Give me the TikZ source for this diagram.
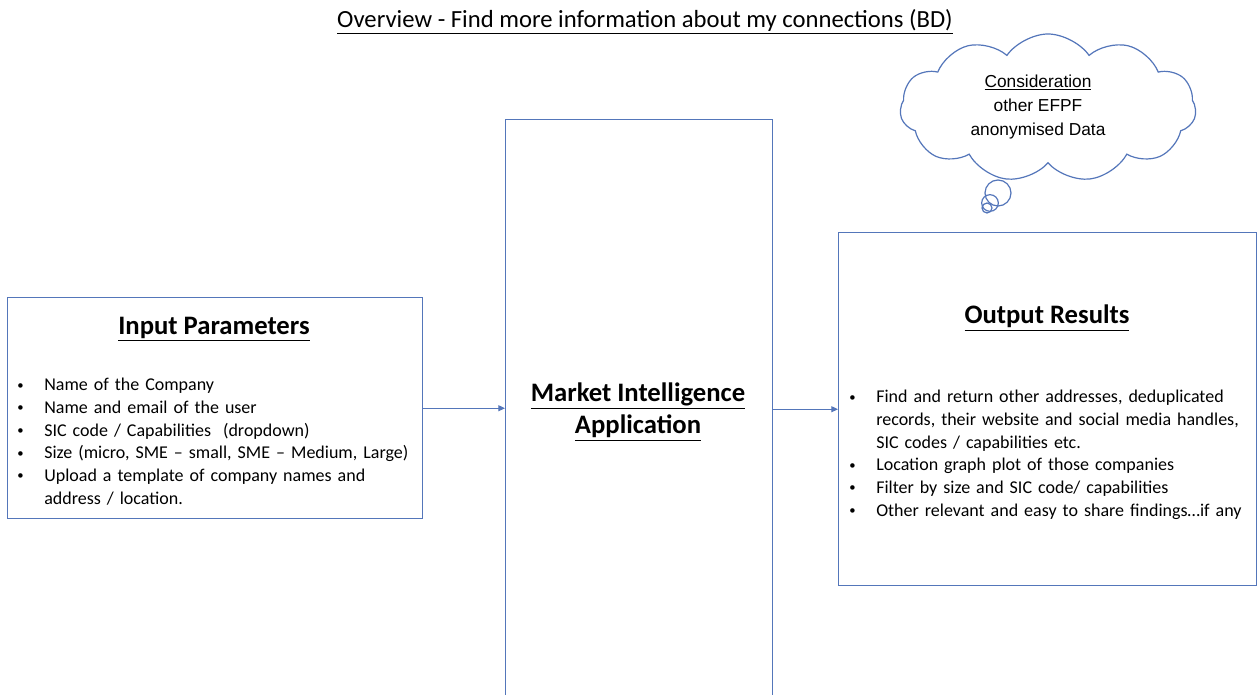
\documentclass[tikz,border=0pt]{standalone}
\usepackage{fontspec}
\setmainfont{Carlito}
\newfontfamily\cloudfont{Liberation Sans}
\usetikzlibrary{arrows.meta,shapes.symbols}
\definecolor{boxblue}{RGB}{84,118,186}
\newcommand{\dotmark}{\raisebox{1.4pt}{\fontsize{9.5}{9.5}\selectfont\textbullet}}
\newcommand{\bitem}[1]{\par\hangindent=20.25pt\hangafter=1\noindent\makebox[20.25pt][l]{\dotmark}#1}

\begin{document}
\begin{tikzpicture}[
    x=0.75pt, y=-0.75pt,
    box/.style={draw=boxblue, line width=1.1pt, inner sep=0pt, anchor=north west},
    heading/.style={font=\fontsize{20}{24}\selectfont\bfseries, align=center},
    bullets/.style={font=\fontsize{13.5}{17}\selectfont, align=left, inner sep=0pt, anchor=north west},
    bubble/.style={circle, draw=boxblue, line width=0.9pt, inner sep=0pt},
    arrow/.style={-{Triangle[length=5pt,width=4.5pt]}, draw=boxblue, line width=0.75pt}
]
\clip (0,0) rectangle (1258,695);
\fill[white] (0,0) rectangle (1258,695);

\node[font=\fontsize{18.5}{20}\selectfont] (title) at (645,22)
    {\underline{Overview - Find more information about my connections (BD)}};

% the three boxes
\node[box, minimum width=311.25pt, minimum height=165.75pt] (input) at (7,297) {};
\node[box, minimum width=200.25pt, minimum height=458.25pt] (mid) at (505,119) {};
\node[box, minimum width=313.5pt, minimum height=264.75pt] (output) at (838,232) {};

\node[heading] (inhead) at (214,329) {\underline{Input Parameters}};
\node[heading] (midhead) at (638,412) {\underline{Market Intelligence}\\\underline{Application}};
\node[heading] (outhead) at (1047,318) {\underline{Output Results}};

\node[bullets, text width=305pt] (inlist) at (17,368) {%
  \bitem{Name of the Company}
  \bitem{Name and email of the user}
  \bitem{SIC code / Capabilities~ (dropdown)}
  \bitem{Size (micro, SME -- small, SME -- Medium, Large)}
  \bitem{Upload a template of company names and\newline address / location.}\par};

\node[bullets, text width=305pt] (outlist) at (849,380) {%
  \bitem{Find and return other addresses, deduplicated\newline records, their website and social media handles,\newline SIC codes / capabilities etc.}
  \bitem{Location graph plot of those companies}
  \bitem{Filter by size and SIC code/ capabilities}
  \bitem{Other relevant and easy to share findings\dots if any}\par};

% thought cloud
\node[cloud, draw=boxblue, line width=0.9pt, cloud puffs=11, cloud puff arc=110,
      aspect=2, minimum width=222pt, minimum height=111pt] (cloud) at (1048,108) {};
\node[align=center, font=\cloudfont\fontsize{13}{18}\selectfont] (cloudtext) at (1038,107)
    {\underline{Consideration}\\other EFPF\\anonymised Data};
\node[bubble, minimum size=19.5pt] (bub1) at (998,193) {};
\node[bubble, minimum size=12.5pt] (bub2) at (990,203) {};
\node[bubble, minimum size=7.5pt] (bub3) at (987,208) {};

\draw[arrow] (input.east) -- (input.east -| mid.west);
\draw[arrow] (output.west -| mid.east) -- (output.west);
\end{tikzpicture}
\end{document}
